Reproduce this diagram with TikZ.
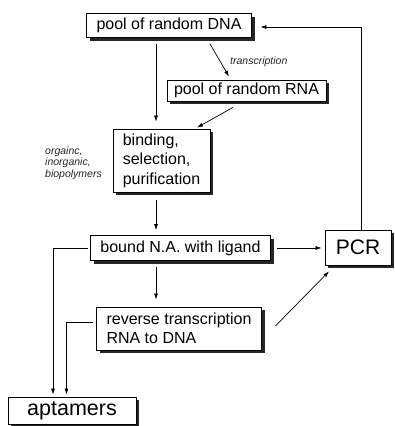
\documentclass[tikz,border=0pt]{standalone}
\usepackage{fontspec}
\setmainfont{Liberation Sans}
\usetikzlibrary{arrows.meta,shadows}
\tikzset{
  box/.style={draw, line width=0.8pt, fill=white, rectangle, inner sep=0pt,
    font=\fontsize{16}{19.5}\selectfont,
    drop shadow={shadow xshift=3pt, shadow yshift=-3pt, fill=black, opacity=0.85}},
  arr/.style={draw, line width=0.7pt, -{Latex[length=6pt,width=4pt]}},
  lab/.style={font=\fontsize{10.5}{11.5}\selectfont\itshape, inner sep=0pt, align=left, text=black!85}
}
\begin{document}
\begin{tikzpicture}[x=1pt,y=-1pt]
\path[use as bounding box, clip] (0,0) rectangle (395,426);
\fill[white] (0,0) rectangle (395,426);
\coordinate (colx) at (156,0);

\node[box, minimum width=165pt, minimum height=24pt] (dna) at (169,25.5) {pool of random DNA};
\node[box, minimum width=159pt, minimum height=21pt] (rna) at (246.5,90.5) {pool of random RNA};
\node[box, minimum width=97pt, minimum height=63pt, align=left] (bind) at (161.5,160.5) {binding,\\selection,\\purification};
\node[box, minimum width=180pt, minimum height=25pt] (bound) at (180.5,248) {bound N.A. with ligand};
\node[box, minimum width=66pt, minimum height=35pt, font=\fontsize{21}{24}\selectfont] (pcr) at (358,247.5) {PCR};
\node[box, minimum width=165pt, minimum height=43pt, align=left] (rev) at (179,328.5) {reverse transcription\\RNA to DNA};
\node[box, minimum width=128pt, minimum height=27pt, font=\fontsize{21.5}{24}\selectfont] (apt) at (72,410.5) {aptamers};

\node[lab, anchor=west] (trlab) at (230,61.5) {transcription};
\node[lab, anchor=west] (orglab) at (45,163) {orgainc,\\inorganic,\\biopolymers};

\draw[arr, shorten <=6pt, shorten >=7pt] (dna.south -| colx) -- (bind.north -| colx);
\draw[arr] ([xshift=41pt,yshift=-6pt]dna.south) -- ([xshift=-17.5pt,yshift=3pt]rna.north);
\draw[arr] ([xshift=-13.5pt,yshift=-6pt]rna.south) -- ([xshift=35.5pt,yshift=1pt]bind.north);
\draw[arr, shorten <=8pt, shorten >=5pt] (bind.south -| colx) -- (bound.north -| colx);
\draw[arr, shorten <=6.5pt, shorten >=3pt] (bound.east) -- (bound.east -| pcr.west);
\draw[arr, shorten >=8.5pt] ([xshift=3pt]pcr.north) |- ([yshift=-1.5pt]dna.east);
\draw[arr, shorten <=2.5pt, shorten >=2pt] (bound.west) -| ([xshift=-19pt]apt.north);
\draw[arr, shorten <=6pt, shorten >=7pt] (bound.south -| colx) -- (rev.north -| colx);
\draw[arr, shorten <=3.5pt, shorten >=2pt] ([yshift=6.5pt]rev.west) -| ([xshift=-5.5pt]apt.north);
\draw[arr] ([xshift=13.5pt,yshift=2.5pt]rev.east) -- ([xshift=-29pt,yshift=-6pt]pcr.south);
\end{tikzpicture}
\end{document}
